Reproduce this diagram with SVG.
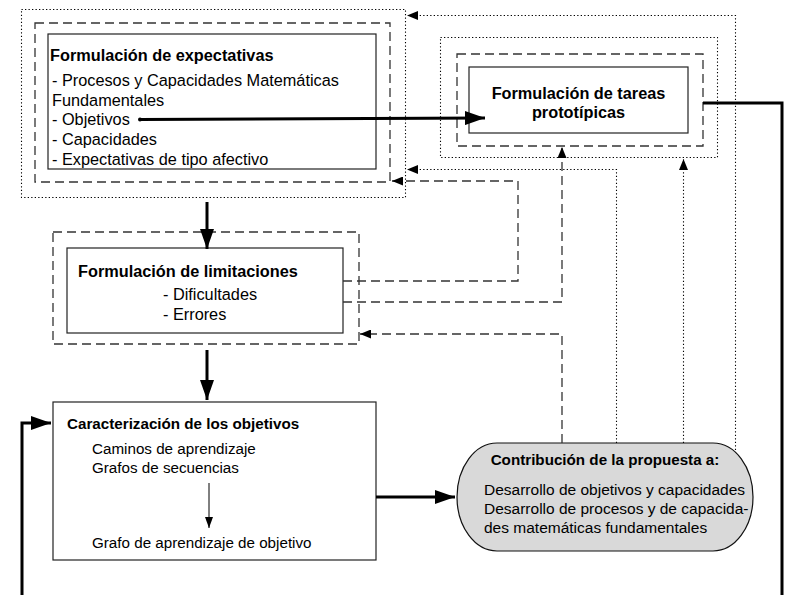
<svg xmlns="http://www.w3.org/2000/svg" width="785" height="595" viewBox="0 0 785 595">
<style>
text{font-family:"Liberation Sans",Arial,sans-serif;fill:#000}
.t{font-size:16.3px}
.tb{font-size:16.3px;font-weight:bold}
.s{font-size:15.2px}
.sb{font-size:15.2px;font-weight:bold}
.m{font-size:15.5px}
.box{fill:#fff;stroke:#222;stroke-width:1.2}
.dash{fill:none;stroke:#333;stroke-width:1.3;stroke-dasharray:9 5}
.dot{fill:none;stroke:#000;stroke-width:1.1;stroke-dasharray:1.3 2.2}
.thick{fill:none;stroke:#000;stroke-width:3}
.cd{fill:none;stroke:#333;stroke-width:1.3;stroke-dasharray:9 5}
.co{fill:none;stroke:#000;stroke-width:1.1;stroke-dasharray:1.3 2.2}
</style>
<defs>
<marker id="big" markerUnits="userSpaceOnUse" markerWidth="20" markerHeight="14" refX="20" refY="7" orient="auto"><path d="M0,0 L20,7 L0,14 z" fill="#000"/></marker>
<marker id="sm" markerUnits="userSpaceOnUse" markerWidth="11" markerHeight="9" refX="11" refY="4.5" orient="auto"><path d="M0,0 L11,4.5 L0,9 z" fill="#000"/></marker>
<marker id="thin" markerUnits="userSpaceOnUse" markerWidth="11" markerHeight="8" refX="11" refY="4" orient="auto"><path d="M0,0 L11,4 L0,8 z" fill="#000"/></marker>
</defs>
<rect width="785" height="595" fill="#fff"/>

<g id="expectativas">
<rect class="dot" x="21.5" y="9.5" width="384" height="188"/>
<rect class="dash" x="35" y="23" width="355" height="159"/>
<rect class="box" x="48" y="34" width="328" height="135"/>
<text class="tb" x="50" y="61">Formulación de expectativas</text>
<text class="t" x="52" y="86">- Procesos y Capacidades Matemáticas</text>
<text class="t" x="52" y="105.5">Fundamentales</text>
<text class="t" x="52" y="125">- Objetivos</text>
<text class="t" x="52" y="145">- Capacidades</text>
<text class="t" x="52" y="164.5">- Expectativas de tipo afectivo</text>
</g>

<g id="tareas">
<rect class="dot" x="440.5" y="37.5" width="277" height="120"/>
<rect class="dash" x="457" y="54" width="246" height="92"/>
<rect class="box" x="469" y="67" width="219" height="66"/>
<text class="tb" x="578.5" y="99" text-anchor="middle">Formulación de tareas</text>
<text class="tb" x="578.5" y="118" text-anchor="middle">prototípicas</text>
</g>

<g id="limitaciones">
<rect class="dash" x="53" y="232" width="306" height="112"/>
<rect class="box" x="67" y="248" width="276" height="85"/>
<text class="tb" x="78" y="277">Formulación de limitaciones</text>
<text class="t" x="163" y="300">- Dificultades</text>
<text class="t" x="163" y="320">- Errores</text>
</g>

<g id="caracterizacion">
<rect class="box" x="53" y="402" width="323" height="158"/>
<text class="sb" x="67" y="429">Caracterización de los objetivos</text>
<text class="s" x="92" y="454">Caminos de aprendizaje</text>
<text class="s" x="92" y="472.5">Grafos de secuencias</text>
<line x1="209" y1="483" x2="209" y2="528" stroke="#000" stroke-width="1" marker-end="url(#thin)"/>
<text class="s" x="92" y="547.5">Grafo de aprendizaje de objetivo</text>
</g>

<g id="contribucion">
<rect x="457" y="443" width="296" height="108" rx="40" ry="54" fill="#d9d9d9" stroke="#111" stroke-width="1.2"/>
<text class="sb" x="605" y="465" text-anchor="middle">Contribución de la propuesta a:</text>
<text class="m" x="484" y="494.5">Desarrollo de objetivos y capacidades</text>
<text class="m" x="484" y="514">Desarrollo de procesos y de capacida-</text>
<text class="m" x="484" y="533">des matemáticas fundamentales</text>
</g>

<g id="connectors">
<circle cx="140" cy="119.5" r="2" fill="#000"/>
<path class="thick" d="M140,119.5 L485,118" marker-end="url(#big)"/>
<path class="thick" d="M207,202 L207,249" marker-end="url(#big)"/>
<path class="thick" d="M207,350 L207,400" marker-end="url(#big)"/>
<path class="thick" d="M376,497 L455,497" marker-end="url(#big)"/>
<path class="thick" d="M703,103 L782,103 L782,596"/>
<path class="thick" d="M22,596 L22,423 L51,423" marker-end="url(#big)"/>
<path class="cd" d="M343,281 L518,281 L518,181 L392,181" marker-end="url(#sm)"/>
<path class="cd" d="M343,302 L562,302 L562,147" marker-end="url(#sm)"/>
<path class="cd" d="M562,443 L562,334 L360,334" marker-end="url(#sm)"/>
<path class="co" d="M616.5,443 L616.5,169.5 L407,169.5" marker-end="url(#sm)"/>
<path class="co" d="M683.5,443 L683.5,159" marker-end="url(#sm)"/>
<path class="co" d="M735.5,450 L735.5,15.5 L407,15.5" marker-end="url(#sm)"/>
</g>
</svg>
